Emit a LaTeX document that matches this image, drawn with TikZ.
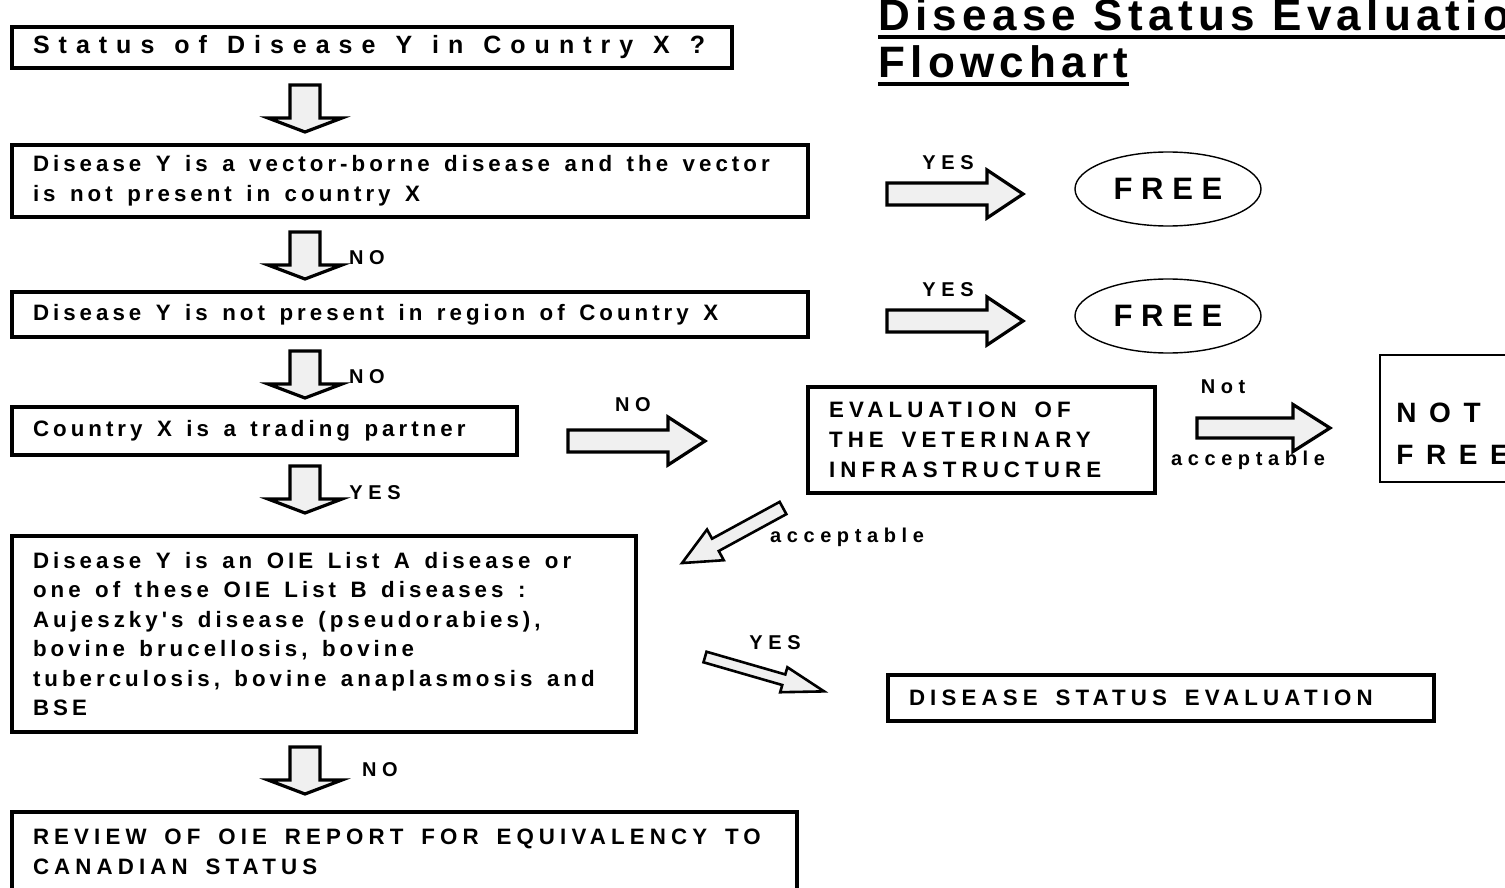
\documentclass[tikz,border=0pt]{standalone}
\usepackage{fontspec}
\setmainfont{Liberation Sans}
\newfontfamily\titlefont{Liberation Sans}[LetterSpace=12]
\newfontfamily\statfont{Liberation Sans}[LetterSpace=36]
\newfontfamily\lowfont{Liberation Sans}[LetterSpace=18]
\newfontfamily\capfont{Liberation Sans}[LetterSpace=23]
\newfontfamily\labfont{Liberation Sans}[LetterSpace=28]
\newfontfamily\widefont{Liberation Sans}[LetterSpace=45]
\newlength\gapwd
\newcommand\gap{\hspace{\gapwd}}
\newcommand\titlesize{\titlefont\bfseries\fontsize{22}{27}\selectfont\setlength\gapwd{0.4em}}
\newcommand\statsize{\statfont\bfseries\fontsize{12.5}{15}\selectfont\setlength\gapwd{0.8em}}
\newcommand\lowsize{\lowfont\bfseries\fontsize{11.15}{15}\selectfont\setlength\gapwd{0.65em}}
\newcommand\oiesize{\lowfont\bfseries\fontsize{11.15}{14.75}\selectfont\setlength\gapwd{0.65em}}
\newcommand\capsize{\capfont\bfseries\fontsize{11.15}{15}\selectfont\setlength\gapwd{0.8em}}
\usetikzlibrary{shapes.geometric}
\tikzset{
  box/.style={draw, line width=2pt, rectangle, inner xsep=10.5pt, inner ysep=0pt, align=left},
  lab/.style={font=\labfont\bfseries\fontsize{10}{12}\selectfont, inner sep=0pt},
  freeoval/.style={ellipse, draw, line width=0.7pt, minimum width=93pt, minimum height=37pt, inner sep=0pt,
    font=\labfont\bfseries\fontsize{15.5}{18}\selectfont},
  arrowbody/.style={draw, fill=gray!12, line width=1.6pt, line join=miter},
  pics/blkarrow/.style n args={4}{code={%
    \draw[arrowbody] (0,-#2) -- ({#1-#4},-#2) -- ({#1-#4},-#3) -- (#1,0) -- ({#1-#4},#3) -- ({#1-#4},#2) -- (0,#2) -- cycle;}}
}
\begin{document}
\begin{tikzpicture}[x=0.5pt, y=-0.5pt]
  \path[fill=white, use as bounding box] (0,0) rectangle (1505,888);
  % title
  \node[anchor=base west, inner sep=0pt, font=\titlesize] (title1) at (878,31) {Disease\gap Status\gap Evaluation};
  \node[anchor=base west, inner sep=0pt, font=\titlesize] (title2) at (878,78) {Flowchart};
  \draw[line width=2pt] ([yshift=-3pt]title1.base west) -- ([yshift=-3pt]title1.base east);
  \draw[line width=2pt] ([yshift=-3pt]title2.base west) -- ([yshift=-3pt]title2.base east);
  % left column
  \node[box, font=\statsize, minimum width=360pt, minimum height=20.5pt, text width=339pt] (status) at (372,47.5) {Status\gap of\gap Disease\gap Y\gap in\gap Country\gap X\gap ?};
  \node[box, font=\lowsize, minimum width=398pt, minimum height=36pt, text width=377pt] (vector) at (410,181) {Disease\gap Y\gap is\gap a\gap vector-borne\gap disease\gap and\gap the\gap vector\\is\gap not\gap present\gap in\gap country\gap X};
  \node[box, font=\lowsize, minimum width=398pt, minimum height=22.5pt, text width=377pt] (region) at (410,314.5) {Disease\gap Y\gap is\gap not\gap present\gap in\gap region\gap of\gap Country\gap X};
  \node[box, font=\lowsize, minimum width=252.5pt, minimum height=24pt, text width=231.5pt] (trade) at (264.5,431) {Country\gap X\gap is\gap a\gap trading\gap partner};
  \node[box, font=\oiesize, minimum width=312pt, minimum height=98pt, text width=291pt] (oie) at (324,634) {Disease\gap Y\gap is\gap an\gap OIE\gap List\gap A\gap disease\gap or\\one\gap of\gap these\gap OIE\gap List\gap B\gap diseases\gap :\\Aujeszky's\gap disease\gap (pseudorabies),\\bovine\gap brucellosis,\gap bovine\\tuberculosis,\gap bovine\gap anaplasmosis\gap and\\BSE};
  \node[box, font=\capsize, minimum width=392.5pt, minimum height=40pt, text width=371.5pt] (review) at (404.5,852) {REVIEW\gap OF\gap OIE\gap REPORT\gap FOR\gap EQUIVALENCY\gap TO\\CANADIAN\gap STATUS};
  % right side
  \node[freeoval] (free1) at (1168,189) {FREE\hspace{8pt}};
  \node[freeoval] (free2) at (1168,316) {FREE\hspace{8pt}};
  \node[box, font=\capsize, minimum width=173.5pt, minimum height=53pt, text width=152.5pt] (infra) at (981.5,440) {EVALUATION\gap OF\\THE\gap VETERINARY\\INFRASTRUCTURE};
  \node[draw, line width=0.8pt, minimum width=80pt, minimum height=63.5pt] (notfree) at (1460,418.5) {};
  \node[anchor=west, inner sep=0pt, align=left, font=\widefont\bfseries\fontsize{14}{21}\selectfont] (notfreetxt) at (1396,434) {NOT\\FREE};
  \node[box, font=\capsize, minimum width=273pt, minimum height=23pt, text width=252pt] (dse) at (1161,698) {DISEASE\gap STATUS\gap EVALUATION};
  % block arrows
  \pic[rotate=-90] (down1) at (305,85) {blkarrow={47}{15}{37}{14}};
  \pic[rotate=-90] (down2) at (305,232) {blkarrow={47}{15}{37}{14}};
  \pic[rotate=-90] (down3) at (305,351) {blkarrow={47}{15}{37}{14}};
  \pic[rotate=-90] (down4) at (305,466) {blkarrow={47}{15}{37}{14}};
  \pic[rotate=-90] (down5) at (305,747) {blkarrow={47}{15}{37}{14}};
  \pic (right1) at (887,194) {blkarrow={136}{11}{24}{36}};
  \pic (right2) at (887,321) {blkarrow={136}{11}{24}{36}};
  \pic (right3) at (568,441) {blkarrow={137}{11}{24}{37}};
  \pic (right4) at (1197,428) {blkarrow={133}{10}{23.5}{37}};
  \pic[rotate=208.6, arrowbody/.append style={line width=1.3pt}] (diag1) at (783,508) {blkarrow={115}{7}{17.5}{38}};
  \pic[rotate=-16.1, arrowbody/.append style={line width=1.3pt}] (diag2) at (705,657) {blkarrow={124}{5.5}{13}{42}};
  % arrow labels
  \node[lab] (nolab1) at (367,258) {NO};
  \node[lab] (nolab2) at (367,377) {NO};
  \node[lab] (yeslab3) at (375,493) {YES};
  \node[lab] (nolab4) at (380,770) {NO};
  \node[lab] (yeslab1) at (948,163) {YES};
  \node[lab] (yeslab2) at (948,290) {YES};
  \node[lab] (nolab3) at (633,405) {NO};
  \node[lab] (notlab) at (1223,387) {Not};
  \node[lab] (notacclab) at (1248,460) {acceptable};
  \node[lab] (acclab) at (847,537) {acceptable};
  \node[lab] (yeslab4) at (775,643) {YES};
\end{tikzpicture}
\end{document}
